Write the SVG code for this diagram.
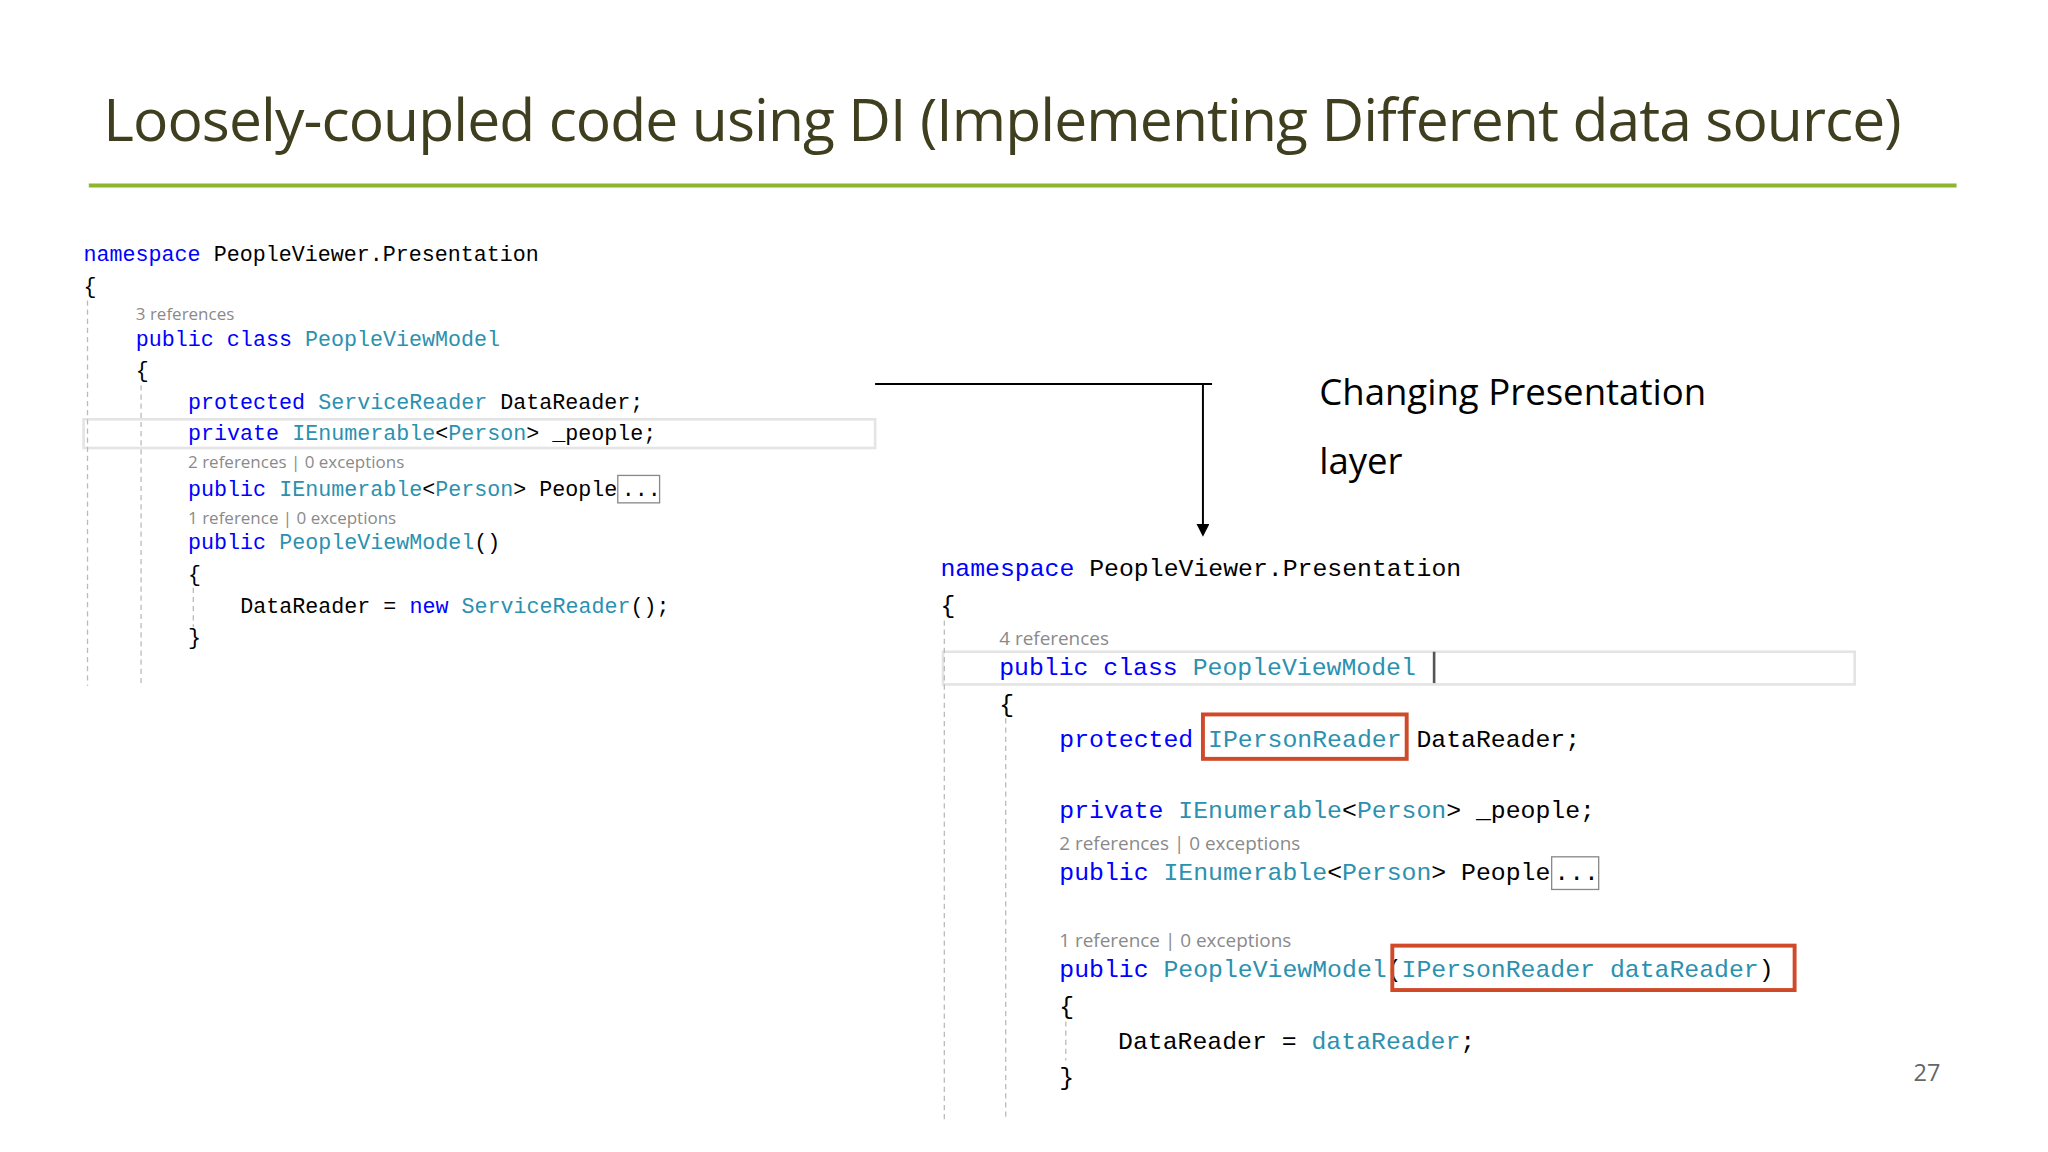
<svg xmlns="http://www.w3.org/2000/svg" width="2048" height="1152" viewBox="0 0 2048 1152">
<style>
.c{font-family:"Liberation Mono","DejaVu Sans Mono",monospace;fill:#000}
.l{font-size:16.6px}
.r{font-size:19px}
.k{fill:#0000ff}
.t{fill:#2b91af}
.g{font-family:"Open Sans","Liberation Sans",sans-serif;fill:#8a8a8a;font-size:13px}
.gr{font-size:14.5px}
.guide{stroke:#bbb;stroke-dasharray:4 3;stroke-width:1}
.hl{fill:none;stroke:#e4e4e4;stroke-width:2}
</style>
<defs><marker id="ah" markerWidth="10" markerHeight="10" refX="8" refY="5" orient="auto" markerUnits="userSpaceOnUse"><path d="M0,0 L10,5 L0,10 z" fill="#000"/></marker></defs>
<rect width="2048" height="1152" fill="#fff"/>
<g transform="scale(1.30612)">
<g id="title">
<text x="79" y="108" font-family="Open Sans, Liberation Sans, sans-serif" font-size="45" fill="#3f3f1f" textLength="1377">Loosely-coupled code using DI (Implementing Different data source)</text>
<line x1="68" y1="142" x2="1498" y2="142" stroke="#8db530" stroke-width="3"/>
</g>
<g id="left-code">
<rect class="hl" x="64" y="321" width="606" height="22"/>
<line class="guide" x1="67" y1="230" x2="67" y2="525"/>
<line class="guide" x1="108" y1="295" x2="108" y2="525"/>
<line class="guide" x1="148" y1="450" x2="148" y2="480"/>
<text class="c l" x="64" y="200"><tspan class="k">namespace</tspan> PeopleViewer.Presentation</text>
<text class="c l" x="64" y="224">{</text>
<text class="g" x="104" y="245">3 references</text>
<text class="c l" x="104" y="265"><tspan class="k">public class</tspan> <tspan class="t">PeopleViewModel</tspan></text>
<text class="c l" x="104" y="289">{</text>
<text class="c l" x="144" y="313"><tspan class="k">protected</tspan> <tspan class="t">ServiceReader</tspan> DataReader;</text>
<text class="c l" x="144" y="337"><tspan class="k">private</tspan> <tspan class="t">IEnumerable</tspan>&lt;<tspan class="t">Person</tspan>&gt; _people;</text>
<text class="g" x="144" y="358">2 references | 0 exceptions</text>
<text class="c l" x="144" y="380"><tspan class="k">public</tspan> <tspan class="t">IEnumerable</tspan>&lt;<tspan class="t">Person</tspan>&gt; People</text>
<rect x="473" y="364" width="32" height="21" fill="none" stroke="#888"/>
<text class="c l" x="476" y="380">...</text>
<text class="g" x="144" y="401">1 reference | 0 exceptions</text>
<text class="c l" x="144" y="420"><tspan class="k">public</tspan> <tspan class="t">PeopleViewModel</tspan>()</text>
<text class="c l" x="144" y="445">{</text>
<text class="c l" x="184" y="469">DataReader = <tspan class="k">new</tspan> <tspan class="t">ServiceReader</tspan>();</text>
<text class="c l" x="144" y="493">}</text>
</g>
<g id="connectors">
<polyline points="670,294 921,294 921,409" fill="none" stroke="#000" stroke-width="1.5" marker-end="url(#ah)"/>
<line x1="918" y1="294" x2="928" y2="294" stroke="#000" stroke-width="1.5"/>
</g>
<g id="label">
<text x="1010" y="310" font-family="Open Sans, Liberation Sans, sans-serif" font-size="28" fill="#000">Changing Presentation</text>
<text x="1010" y="363" font-family="Open Sans, Liberation Sans, sans-serif" font-size="28" fill="#000">layer</text>
</g>
<g id="right-code">
<rect class="hl" x="722" y="499" width="698" height="25"/>
<line x1="1098" y1="499" x2="1098" y2="523" stroke="#555" stroke-width="2"/>
<line class="guide" x1="723" y1="475" x2="723" y2="858"/>
<line class="guide" x1="770" y1="550" x2="770" y2="858"/>
<line class="guide" x1="816" y1="782" x2="816" y2="812"/>
<text class="c r" x="720" y="441"><tspan class="k">namespace</tspan> PeopleViewer.Presentation</text>
<text class="c r" x="720" y="469">{</text>
<text class="g gr" x="765" y="494">4 references</text>
<text class="c r" x="765" y="517"><tspan class="k">public class</tspan> <tspan class="t">PeopleViewModel</tspan></text>
<text class="c r" x="765" y="545">{</text>
<text class="c r" x="811" y="572"><tspan class="k">protected</tspan> <tspan class="t">IPersonReader</tspan> DataReader;</text>
<rect x="921" y="547" width="156" height="34" fill="none" stroke="#d04a2a" stroke-width="3"/>
<text class="c r" x="811" y="626"><tspan class="k">private</tspan> <tspan class="t">IEnumerable</tspan>&lt;<tspan class="t">Person</tspan>&gt; _people;</text>
<text class="g gr" x="811" y="651">2 references | 0 exceptions</text>
<text class="c r" x="811" y="674"><tspan class="k">public</tspan> <tspan class="t">IEnumerable</tspan>&lt;<tspan class="t">Person</tspan>&gt; People</text>
<rect x="1188" y="656" width="36" height="25" fill="none" stroke="#888"/>
<text class="c r" x="1190" y="674">...</text>
<text class="g gr" x="811" y="725">1 reference | 0 exceptions</text>
<text class="c r" x="811" y="748"><tspan class="k">public</tspan> <tspan class="t">PeopleViewModel</tspan>(<tspan class="t">IPersonReader</tspan> <tspan class="t">dataReader</tspan>)</text>
<rect x="1066" y="724" width="308" height="34" fill="none" stroke="#d04a2a" stroke-width="3"/>
<text class="c r" x="811" y="776">{</text>
<text class="c r" x="856" y="803">DataReader = <tspan class="t">dataReader</tspan>;</text>
<text class="c r" x="811" y="831">}</text>
</g>
<text x="1465" y="828" font-family="Open Sans, Liberation Sans, sans-serif" font-size="18" fill="#666">27</text>
</g>
</svg>
